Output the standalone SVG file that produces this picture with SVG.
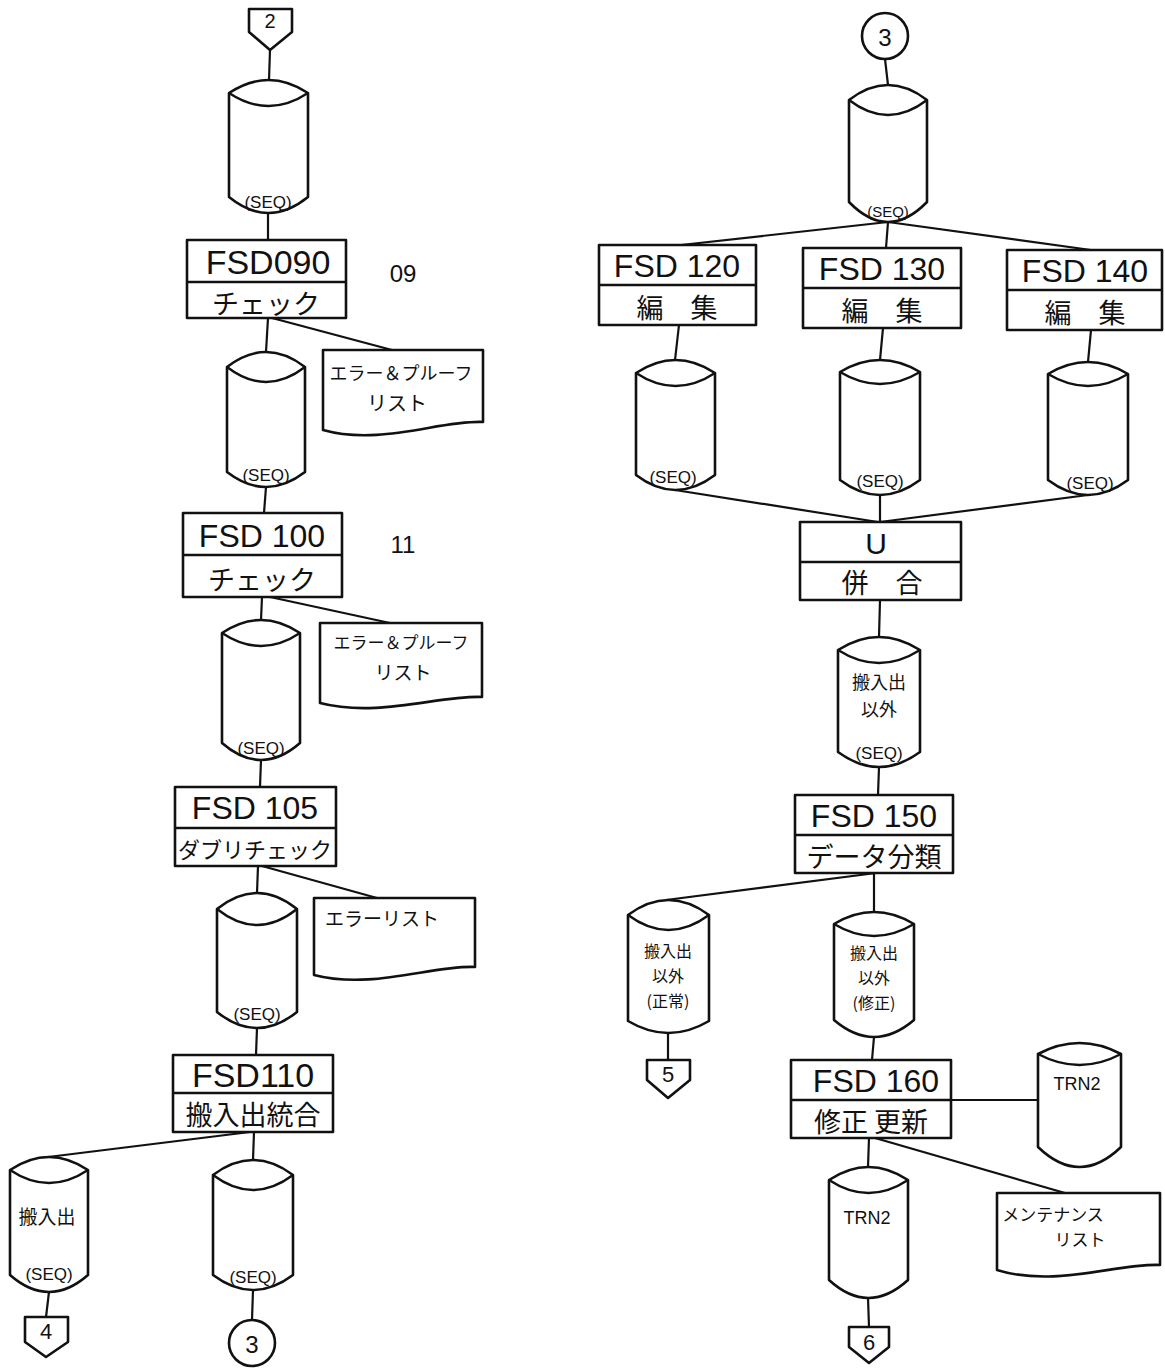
<svg xmlns="http://www.w3.org/2000/svg" width="1165" height="1369" viewBox="0 0 1165 1369">
<style>
.s{fill:#fff;stroke:#111;stroke-width:2.6;stroke-linejoin:round}
.a{fill:none;stroke:#111;stroke-width:2.4}
.c line{stroke:#111;stroke-width:2.2}
text{font-family:"Liberation Sans","Noto Sans CJK JP",sans-serif;fill:#111;text-anchor:middle;dominant-baseline:central}
.id{font-size:34px}
.jp{font-size:27px;font-family:"Noto Sans CJK JP",sans-serif}
.sq{font-size:17px}
.d{font-size:18px;font-family:"Noto Sans CJK JP",sans-serif}
.m{font-size:16px;font-family:"Noto Sans CJK JP",sans-serif}
.n{font-size:24px}
</style>
<rect width="1165" height="1369" fill="#fff"/>
<g class="c" id="connectors">
<line x1="270" y1="50" x2="269" y2="80"/>
<line x1="268" y1="213" x2="268" y2="240"/>
<line x1="268" y1="318" x2="266" y2="352"/>
<line x1="272" y1="318" x2="392" y2="350"/>
<line x1="266" y1="487" x2="264" y2="513"/>
<line x1="262" y1="597" x2="261" y2="620"/>
<line x1="270" y1="597" x2="390" y2="623"/>
<line x1="261" y1="760" x2="260" y2="787"/>
<line x1="258" y1="866" x2="257" y2="893"/>
<line x1="262" y1="866" x2="377" y2="898"/>
<line x1="257" y1="1028" x2="256" y2="1055"/>
<line x1="254" y1="1132" x2="253" y2="1160"/>
<line x1="250" y1="1132" x2="40" y2="1158"/>
<line x1="49" y1="1292" x2="46" y2="1317"/>
<line x1="253" y1="1290" x2="252" y2="1320"/>
<line x1="885" y1="59" x2="888" y2="85"/>
<line x1="888" y1="222" x2="681" y2="245"/>
<line x1="888" y1="222" x2="886" y2="248"/>
<line x1="888" y1="222" x2="1091" y2="250"/>
<line x1="679" y1="325" x2="675" y2="360"/>
<line x1="883" y1="328" x2="880" y2="360"/>
<line x1="1091" y1="330" x2="1088" y2="362"/>
<line x1="675" y1="490" x2="878" y2="522"/>
<line x1="880" y1="495" x2="880" y2="522"/>
<line x1="1088" y1="495" x2="880" y2="522"/>
<line x1="880" y1="600" x2="879" y2="637"/>
<line x1="879" y1="767" x2="878" y2="795"/>
<line x1="876" y1="873" x2="666" y2="900"/>
<line x1="874" y1="873" x2="874" y2="912"/>
<line x1="668" y1="1033" x2="668" y2="1060"/>
<line x1="874" y1="1037" x2="872" y2="1060"/>
<line x1="951" y1="1100" x2="1038" y2="1100"/>
<line x1="869" y1="1138" x2="868" y2="1167"/>
<line x1="875" y1="1138" x2="1065" y2="1193"/>
<line x1="868" y1="1298" x2="869" y2="1327"/>
</g>
<g id="off2"><path class="s" d="M249,9 H292 V32 L270,50 L249,32 Z"/><text class="n" x="270" y="21" style="font-size:20px">2</text></g>
<g id="off4"><path class="s" d="M25,1317 H68 V1342 L46,1357 L25,1342 Z"/><text class="n" x="46" y="1331" style="font-size:22px">4</text></g>
<g id="off5"><path class="s" d="M647,1060 H690 V1080 L668,1098 L647,1080 Z"/><text class="n" x="668" y="1074" style="font-size:22px">5</text></g>
<g id="off6"><path class="s" d="M849,1327 H889 V1347 L869,1363 L849,1347 Z"/><text class="n" x="869" y="1342" style="font-size:22px">6</text></g>
<g id="conn3a"><circle class="s" cx="252" cy="1343" r="23"/><text class="n" x="252" y="1344">3</text></g>
<g id="conn3b"><circle class="s" cx="885" cy="36" r="23"/><text class="n" x="885" y="37">3</text></g>

<g id="c1"><path class="s" d="M229,93 Q268.5,67 308,93 L308,197 Q268.5,229 229,197 Z"/><path class="a" d="M229,93 Q268.5,119 308,93"/><text class="sq" x="268" y="202">(SEQ)</text></g>
<g id="c2"><path class="s" d="M227,367 Q266,337 305,367 L305,472 Q266,502 227,472 Z"/><path class="a" d="M227,367 Q266,397 305,367"/><text class="sq" x="266" y="475">(SEQ)</text></g>
<g id="c3"><path class="s" d="M222,633 Q261,607 300,633 L300,743 Q261,777 222,743 Z"/><path class="a" d="M222,633 Q261,659 300,633"/><text class="sq" x="261" y="748">(SEQ)</text></g>
<g id="c4"><path class="s" d="M217,909 Q257,877 297,909 L297,1012 Q257,1044 217,1012 Z"/><path class="a" d="M217,909 Q257,941 297,909"/><text class="sq" x="257" y="1014">(SEQ)</text></g>
<g id="c5"><path class="s" d="M10,1170 Q49,1144 88,1170 L88,1275 Q49,1309 10,1275 Z"/><path class="a" d="M10,1170 Q49,1196 88,1170"/><text class="d" x="47" y="1215" style="font-size:19px">搬入出</text><text class="sq" x="49" y="1274">(SEQ)</text></g>
<g id="c6"><path class="s" d="M213,1175 Q253,1145 293,1175 L293,1275 Q253,1305 213,1275 Z"/><path class="a" d="M213,1175 Q253,1205 293,1175"/><text class="sq" x="253" y="1277">(SEQ)</text></g>

<g id="fsd090"><rect class="s" x="187" y="240" width="159" height="78"/><line class="a" x1="187" y1="282" x2="346" y2="282"/><text class="id" x="268" y="262">FSD090</text><text class="jp" x="266" y="302">チェック</text></g>
<text class="n" x="403" y="273">09</text>
<g id="fsd100"><rect class="s" x="183" y="513" width="159" height="84"/><line class="a" x1="183" y1="555" x2="342" y2="555"/><text class="id" x="262" y="536" style="font-size:32px">FSD 100</text><text class="jp" x="262" y="578">チェック</text></g>
<text class="n" x="403" y="544">11</text>
<g id="fsd105"><rect class="s" x="175" y="787" width="161" height="79"/><line class="a" x1="175" y1="828" x2="336" y2="828"/><text class="id" x="255" y="808" style="font-size:32px">FSD 105</text><text class="jp" x="255" y="848" style="font-size:22px">ダブリチェック</text></g>
<g id="fsd110"><rect class="s" x="173" y="1055" width="160" height="77"/><line class="a" x1="173" y1="1093" x2="333" y2="1093"/><text class="id" x="253" y="1075">FSD110</text><text class="jp" x="253" y="1113">搬入出統合</text></g>

<g id="d1"><path class="s" d="M323,350 H483 V422 C440,420 380,446 323,430 Z"/><text class="d" x="401" y="372">エラー＆プルーフ</text><text class="d" x="397" y="402" style="font-size:20px">リスト</text></g>
<g id="d2"><path class="s" d="M320,623 H482 V697 C440,695 378,718 320,703 Z"/><text class="d" x="401" y="641" style="font-size:17px">エラー＆プルーフ</text><text class="d" x="403" y="671" style="font-size:19px">リスト</text></g>
<g id="d3"><path class="s" d="M314,898 H475 V967 C432,965 372,990 314,975 Z"/><text class="d" x="382" y="917" style="font-size:19px">エラーリスト</text></g>

<g id="r1"><path class="s" d="M849,100 Q888,70 927,100 L927,202 Q888,242 849,202 Z"/><path class="a" d="M849,100 Q888,130 927,100"/><text class="sq" x="888" y="211" style="font-size:15px">(SEQ)</text></g>
<g id="fsd120"><rect class="s" x="599" y="245" width="157" height="80"/><line class="a" x1="599" y1="285" x2="756" y2="285"/><text class="id" x="677" y="266" style="font-size:32px">FSD 120</text><text class="jp" x="677" y="306">編　集</text></g>
<g id="fsd130"><rect class="s" x="803" y="248" width="158" height="80"/><line class="a" x1="803" y1="288" x2="961" y2="288"/><text class="id" x="882" y="269" style="font-size:32px">FSD 130</text><text class="jp" x="882" y="309">編　集</text></g>
<g id="fsd140"><rect class="s" x="1007" y="250" width="155" height="80"/><line class="a" x1="1007" y1="290" x2="1162" y2="290"/><text class="id" x="1085" y="271" style="font-size:32px">FSD 140</text><text class="jp" x="1085" y="311">編　集</text></g>
<g id="ra"><path class="s" d="M636,373 Q675.5,347 715,373 L715,475 Q675.5,505 636,475 Z"/><path class="a" d="M636,373 Q675.5,399 715,373"/><text class="sq" x="673" y="477">(SEQ)</text></g>
<g id="rb"><path class="s" d="M840,372 Q880,348 920,372 L920,480 Q880,510 840,480 Z"/><path class="a" d="M840,372 Q880,396 920,372"/><text class="sq" x="880" y="481">(SEQ)</text></g>
<g id="rc"><path class="s" d="M1048,374 Q1088,350 1128,374 L1128,480 Q1088,510 1048,480 Z"/><path class="a" d="M1048,374 Q1088,398 1128,374"/><text class="sq" x="1090" y="483">(SEQ)</text></g>
<g id="merge"><rect class="s" x="800" y="522" width="161" height="78"/><line class="a" x1="800" y1="562" x2="961" y2="562"/><text class="id" x="876" y="543" style="font-size:30px">U</text><text class="jp" x="882" y="581">併　合</text></g>
<g id="rm"><path class="s" d="M838,650 Q879,624 920,650 L920,752 Q879,782 838,752 Z"/><path class="a" d="M838,650 Q879,676 920,650"/><text class="d" x="879" y="681">搬入出</text><text class="d" x="879" y="708">以外</text><text class="sq" x="879" y="753">(SEQ)</text></g>
<g id="fsd150"><rect class="s" x="795" y="795" width="158" height="78"/><line class="a" x1="795" y1="835" x2="953" y2="835"/><text class="id" x="874" y="816" style="font-size:32px">FSD 150</text><text class="jp" x="874" y="855">データ分類</text></g>
<g id="r5"><path class="s" d="M628,915 Q668.5,885 709,915 L709,1021 Q668.5,1045 628,1021 Z"/><path class="a" d="M628,915 Q668.5,945 709,915"/><text class="m" x="668" y="950">搬入出</text><text class="m" x="668" y="975">以外</text><text class="m" x="668" y="1000">(正常)</text></g>
<g id="rf"><path class="s" d="M834,924 Q874,900 914,924 L914,1020 Q874,1054 834,1020 Z"/><path class="a" d="M834,924 Q874,948 914,924"/><text class="m" x="874" y="952">搬入出</text><text class="m" x="874" y="977">以外</text><text class="m" x="874" y="1002">(修正)</text></g>
<g id="fsd160"><rect class="s" x="791" y="1060" width="160" height="78"/><line class="a" x1="791" y1="1100" x2="951" y2="1100"/><text class="id" x="876" y="1081" style="font-size:32px">FSD 160</text><text class="jp" x="871" y="1120">修正 更新</text></g>
<g id="trn2a"><path class="s" d="M1038,1054 Q1079.5,1032 1121,1054 L1121,1147 Q1079.5,1187 1038,1147 Z"/><path class="a" d="M1038,1054 Q1079.5,1076 1121,1054"/><text class="sq" x="1077" y="1084" style="font-size:18px">TRN2</text></g>
<g id="trn2b"><path class="s" d="M829,1180 Q868.5,1154 908,1180 L908,1280 Q868.5,1316 829,1280 Z"/><path class="a" d="M829,1180 Q868.5,1206 908,1180"/><text class="sq" x="867" y="1218" style="font-size:18px">TRN2</text></g>
<g id="d4"><path class="s" d="M997,1193 H1160 V1265 C1117,1263 1055,1288 997,1270 Z"/><text class="d" x="1053" y="1213" style="font-size:17px">メンテナンス</text><text class="d" x="1080" y="1238" style="font-size:17px">リスト</text></g>
</svg>
